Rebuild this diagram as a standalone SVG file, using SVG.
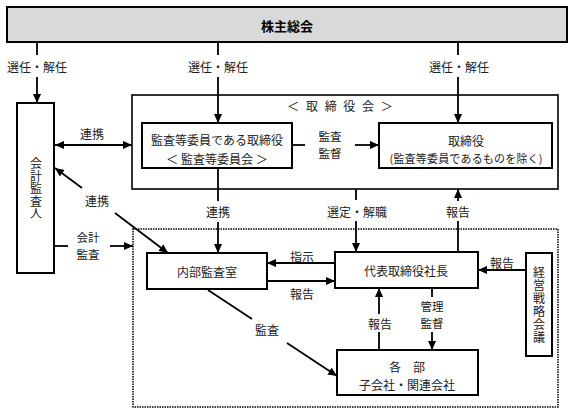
<svg xmlns="http://www.w3.org/2000/svg" width="575" height="414" viewBox="0 0 575 414">
<defs>
<marker id="ah" viewBox="0 0 10 10" refX="10" refY="5" markerWidth="9" markerHeight="9" markerUnits="userSpaceOnUse" orient="auto-start-reverse">
<path d="M0,0.5 L10,5 L0,9.5 z" fill="#000"/>
</marker>
<style>
text{font-family:"Noto Sans CJK JP","Noto Sans",sans-serif;font-size:12px;fill:#222;text-anchor:middle;dominant-baseline:central}
.vt{writing-mode:vertical-rl;letter-spacing:0.5px}
.two{font-size:11.5px}
.box{fill:#fff;stroke:#000;stroke-width:2}
.ln{stroke:#000;stroke-width:1.8;fill:none}
.ar{stroke:#000;stroke-width:1.8;fill:none;marker-end:url(#ah)}
</style>
</defs>
<rect width="575" height="414" fill="#fff"/>

<g id="board" >
<rect x="132" y="95" width="426" height="94" fill="#fff" stroke="#000" stroke-width="1.6"/>
<text x="341" y="105" style="letter-spacing:2px">＜ 取 締 役 会 ＞</text>
</g>
<g id="internal-area">
<rect x="133" y="229" width="425" height="178" fill="none" stroke="#000" stroke-width="1.5" stroke-dasharray="1.5 1"/>
</g>

<g id="shareholders">
<rect x="7" y="7" width="560" height="35" fill="#d9d9d9" stroke="#000" stroke-width="2"/>
<text x="287" y="25" style="font-weight:bold;font-size:13px;fill:#000">株主総会</text>
</g>

<g id="auditor">
<rect class="box" x="17" y="103" width="37" height="170"/>
<text class="vt" x="36" y="189">会計監査人</text>
</g>

<g id="audit-committee">
<rect class="box" x="142" y="123" width="150" height="45"/>
<text x="217" y="139">監査等委員である取締役</text>
<text x="217" y="158">＜ 監査等委員会 ＞</text>
</g>

<g id="directors">
<rect class="box" x="379" y="123" width="173" height="45"/>
<text x="466" y="140">取締役</text>
<text x="466" y="158" style="font-size:11px" textLength="153" lengthAdjust="spacing">(監査等委員であるものを除く)</text>
</g>

<g id="internal-audit">
<rect class="box" x="147" y="253" width="120" height="36"/>
<text x="207" y="271">内部監査室</text>
</g>

<g id="president">
<rect class="box" x="335" y="252" width="143" height="36"/>
<text x="406" y="270">代表取締役社長</text>
</g>

<g id="strategy">
<rect class="box" x="526" y="253" width="26" height="103"/>
<text class="vt" x="539" y="305" style="letter-spacing:1px">経営戦略会議</text>
</g>

<g id="departments">
<rect class="box" x="337" y="350" width="141" height="45"/>
<text x="407" y="366">各　部</text>
<text x="407" y="384">子会社・関連会社</text>
</g>

<g id="connectors">
<line class="ln" x1="37" y1="43" x2="37" y2="55"/>
<line class="ar" x1="37" y1="77" x2="37" y2="103"/>
<text x="37" y="66">選任・解任</text>

<line class="ln" x1="218" y1="43" x2="218" y2="55"/>
<line class="ar" x1="218" y1="77" x2="218" y2="123"/>
<text x="218" y="66">選任・解任</text>

<line class="ln" x1="458" y1="43" x2="458" y2="55"/>
<line class="ar" x1="458" y1="77" x2="458" y2="123"/>
<text x="459" y="66">選任・解任</text>

<line class="ar" x1="55" y1="145" x2="132" y2="145" style="marker-start:url(#ah)"/>
<text x="92" y="133">連携</text>

<line class="ln" x1="292" y1="145" x2="305" y2="145"/>
<line class="ar" x1="355" y1="145" x2="379" y2="145"/>
<text class="two" x="330" y="136">監査</text>
<text class="two" x="330" y="153">監督</text>

<line class="ar" x1="82" y1="188" x2="55" y2="168"/>
<text x="97" y="200">連携</text>
<line class="ar" x1="115" y1="213" x2="168" y2="253"/>

<line class="ln" x1="218" y1="168" x2="218" y2="201"/>
<text x="218" y="211">連携</text>
<line class="ar" x1="218" y1="222" x2="218" y2="253"/>

<line class="ln" x1="356" y1="189" x2="356" y2="200"/>
<text x="357" y="211">選定・解職</text>
<line class="ar" x1="356" y1="221" x2="356" y2="252"/>

<line class="ln" x1="458" y1="252" x2="458" y2="221"/>
<text x="458" y="211">報告</text>
<line class="ar" x1="458" y1="201" x2="458" y2="189"/>

<line class="ln" x1="54" y1="246" x2="68" y2="246"/>
<line class="ar" x1="110" y1="246" x2="133" y2="246"/>
<text class="two" x="88" y="237">会計</text>
<text class="two" x="88" y="254">監査</text>

<line class="ar" x1="335" y1="263" x2="267" y2="263"/>
<text x="302" y="256">指示</text>

<line class="ar" x1="267" y1="281" x2="335" y2="281"/>
<text x="302" y="293">報告</text>

<line class="ar" x1="526" y1="270" x2="478" y2="270"/>
<text x="502" y="262">報告</text>

<line class="ln" x1="432" y1="288" x2="432" y2="297"/>
<text class="two" x="432" y="306">管理</text>
<text class="two" x="432" y="323">監督</text>
<line class="ar" x1="432" y1="332" x2="432" y2="350"/>

<line class="ln" x1="379" y1="350" x2="379" y2="332"/>
<text x="380" y="323">報告</text>
<line class="ar" x1="379" y1="314" x2="379" y2="288"/>

<line class="ln" x1="208" y1="290" x2="252" y2="319"/>
<text x="267" y="329">監査</text>
<line class="ar" x1="287" y1="343" x2="337" y2="376"/>
</g>
</svg>
